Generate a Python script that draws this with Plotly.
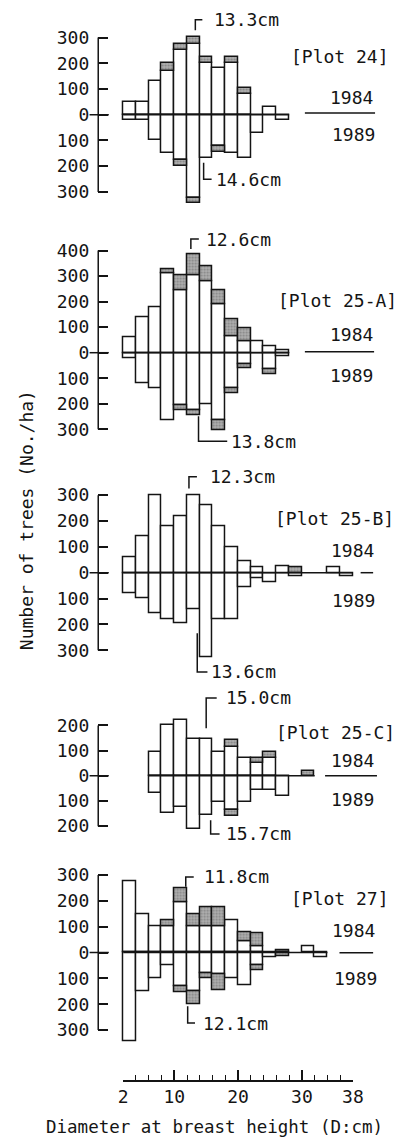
import plotly.graph_objects as go

# ---------------- data ----------------
dbh_class_mid = [3, 5, 7, 9, 11, 13, 15, 17, 19, 21, 23, 25, 27, 29, 31, 33, 35, 37]
class_width = 2

# Plot 24
p24_1984_white = [50, 50, 130, 170, 250, 275, 200, 180, 200, 80, 0, 30, 0, 0, 0, 0, 0, 0]
p24_1984_shade = [0, 0, 0, 30, 25, 25, 25, 0, 25, 25, 0, 0, 0, 0, 0, 0, 0, 0]
p24_1989_white = [20, 20, 100, 150, 175, 325, 170, 120, 150, 170, 70, 0, 20, 0, 0, 0, 0, 0]
p24_1989_shade = [0, 0, 0, 0, 25, 20, 0, 25, 0, 0, 0, 0, 0, 0, 0, 0, 0, 0]
# Plot 25-A
p25a_1984_white = [60, 140, 180, 310, 245, 305, 280, 190, 65, 45, 45, 25, 10, 0, 0, 0, 0, 0]
p25a_1984_shade = [0, 0, 0, 15, 60, 80, 60, 55, 65, 50, 0, 0, 0, 0, 0, 0, 0, 0]
p25a_1989_white = [20, 120, 140, 265, 205, 225, 200, 265, 140, 45, 0, 65, 15, 0, 0, 0, 0, 0]
p25a_1989_shade = [0, 0, 0, 0, 20, 20, 0, 40, 20, 15, 0, 20, 0, 0, 0, 0, 0, 0]
# Plot 25-B
p25b_1984_white = [60, 140, 300, 180, 220, 300, 260, 180, 100, 45, 20, 0, 25, 0, 0, 0, 20, 0]
p25b_1984_shade = [0, 0, 0, 0, 0, 0, 0, 0, 0, 0, 0, 0, 0, 20, 0, 0, 0, 0]
p25b_1989_white = [80, 100, 155, 180, 195, 140, 325, 180, 180, 55, 20, 35, 0, 15, 0, 0, 0, 15]
p25b_1989_shade = [0, 0, 0, 0, 0, 0, 0, 0, 0, 0, 0, 0, 0, 0, 0, 0, 0, 0]
# Plot 25-C
p25c_1984_white = [0, 0, 95, 200, 220, 145, 145, 95, 115, 70, 50, 70, 0, 0, 0, 0, 0, 0]
p25c_1984_shade = [0, 0, 0, 0, 0, 0, 0, 0, 25, 0, 20, 25, 0, 0, 18, 0, 0, 0]
p25c_1989_white = [0, 0, 70, 150, 125, 210, 155, 105, 135, 105, 55, 55, 80, 0, 0, 0, 0, 0]
p25c_1989_shade = [0, 0, 0, 0, 0, 0, 0, 0, 25, 0, 0, 0, 0, 0, 0, 0, 0, 0]
# Plot 27
p27_1984_white = [275, 150, 100, 100, 195, 100, 100, 100, 125, 45, 25, 0, 0, 0, 25, 0, 0, 0]
p27_1984_shade = [0, 0, 0, 25, 55, 50, 75, 75, 0, 35, 50, 0, 10, 0, 0, 0, 0, 0]
p27_1989_white = [345, 150, 100, 50, 130, 150, 80, 85, 100, 125, 50, 20, 0, 0, 0, 18, 0, 0]
p27_1989_shade = [0, 0, 0, 0, 25, 50, 20, 60, 0, 0, 20, 0, 15, 0, 0, 0, 0, 0]

plot_names = ["[Plot 24]", "[Plot 25-A]", "[Plot 25-B]", "[Plot 25-C]", "[Plot 27]"]
mean_dbh_1984 = [13.3, 12.6, 12.3, 15.0, 11.8]
mean_dbh_1989 = [14.6, 13.8, 13.6, 15.7, 12.1]
y_tick_top = [300, 400, 300, 200, 300]
y_tick_bottom = [300, 300, 300, 200, 300]
x_tick_vals = [2, 10, 20, 30, 38]
year_labels = ["1984", "1989"]

# ---------------- layout constants ----------------
W, H = 412, 1141
FONT = "DejaVu Sans Mono"
FS = 18
INK = "#141414"
LW = 1.5
PX_PER_CM = 6.639
AXIS_PX = 97          # pixel x of the vertical axes
DBH2_PX = 123         # pixel x of DBH = 2 cm
RIGHT_PX = 410
x_lo = 2 - (DBH2_PX - AXIS_PX) / PX_PER_CM
x_hi = 2 + (RIGHT_PX - DBH2_PX) / PX_PER_CM

# per panel: zero pixel, px per unit, y range
zero_px = [114.7, 352.7, 572.7, 775.8, 952.6]
px_per_unit = [0.2573, 0.2555, 0.2585, 0.2518, 0.2583]
y_ranges = [(-420, 430), (-420, 460), (-420, 420), (-400, 400), (-400, 400)]

# leader geometry: (y start, y end, horizontal length cm, text shift px)
lead_top = [(328, 369, 1.1, 10), (406, 445, 1.25, 5), (326, 371, 1.25, 11),
            (189, 309, 1.65, 7), (255, 293, 1.25, 8)]
lead_bot = [(-187, -251, 1.25, 2), (-249, -347, 4.5, 2), (-234, -384, 1.6, 2),
            (-177, -231, 1.4, 4), (-208, -273, 1.15, 6)]

# legend text positions (px)
name_pos = [(349, 57), (346, 300), (343, 518), (344, 732), (349, 898)]
y84_pos = [(360, 97), (360, 335), (362, 550), (362, 760), (363, 930)]
y89_pos = [(363, 135), (360, 375), (363, 600), (362, 799), (365, 978)]
sep_line = [(312, 385, 113), (312, 384, 351.7), (370, 383, 572.7), (333, 387, 775.7), (348, 383, 952.7)]

panels = [
    (p24_1984_white, p24_1984_shade, p24_1989_white, p24_1989_shade),
    (p25a_1984_white, p25a_1984_shade, p25a_1989_white, p25a_1989_shade),
    (p25b_1984_white, p25b_1984_shade, p25b_1989_white, p25b_1989_shade),
    (p25c_1984_white, p25c_1984_shade, p25c_1989_white, p25c_1989_shade),
    (p27_1984_white, p27_1984_shade, p27_1989_white, p27_1989_shade),
]


def px(x):
    return x / W


def py(y):
    return 1 - y / H


def nz(vals, sign):
    return [sign * v if v else None for v in vals]


fig = go.Figure()
layout = dict(
    width=W, height=H, margin=dict(l=0, r=0, t=0, b=0),
    paper_bgcolor="white", plot_bgcolor="rgba(0,0,0,0)",
    barmode="relative", bargap=0, showlegend=False,
    font=dict(family=FONT, size=FS, color=INK),
)
shapes = []
annotations = []

white_marker = dict(color="white", line=dict(color=INK, width=LW))
shade_marker = dict(color="#a8a8a8", line=dict(color=INK, width=LW),
                    pattern=dict(shape=".", fgcolor="#555555", bgcolor="#b0b0b0",
                                 size=3, solidity=0.4))

for i, (w84, s84, w89, s89) in enumerate(panels):
    n = i + 1
    xa = "x" if n == 1 else f"x{n}"
    ya = "y" if n == 1 else f"y{n}"
    for vals, sign, mk in [(w84, 1, white_marker), (s84, 1, shade_marker),
                           (w89, -1, white_marker), (s89, -1, shade_marker)]:
        fig.add_trace(go.Bar(x=dbh_class_mid, y=nz(vals, sign), width=class_width,
                             xaxis=xa, yaxis=ya, marker=mk, hoverinfo="skip"))

    lo, hi = y_ranges[i]
    s = px_per_unit[i]
    top_px = zero_px[i] - hi * s
    bot_px = zero_px[i] - lo * s
    ticks = list(range(-y_tick_bottom[i], y_tick_top[i] + 1, 100))
    layout["xaxis" if n == 1 else f"xaxis{n}"] = dict(
        domain=[px(AXIS_PX), px(RIGHT_PX)], range=[x_lo, x_hi], anchor=ya,
        visible=False, fixedrange=True)
    layout["yaxis" if n == 1 else f"yaxis{n}"] = dict(
        domain=[py(bot_px), py(top_px)], range=[lo, hi], anchor=xa,
        showgrid=False, zeroline=False, showline=False,
        tickvals=ticks, ticktext=[str(abs(t)) for t in ticks],
        ticks="inside", ticklen=10, tickwidth=LW, tickcolor=INK,
        ticklabelstandoff=8, tickfont=dict(family=FONT, size=FS, color=INK))

    # vertical axis line spanning the tick range
    shapes.append(dict(type="line", xref="paper", yref=ya, x0=px(AXIS_PX), x1=px(AXIS_PX),
                       y0=-y_tick_bottom[i], y1=y_tick_top[i], line=dict(color=INK, width=LW)))
    # zero tick crossing the axis
    shapes.append(dict(type="line", xref="paper", yref=ya, x0=px(AXIS_PX - 9), x1=px(AXIS_PX + 11),
                       y0=0, y1=0, line=dict(color=INK, width=LW)))
    # zero line through the bars
    nonzero = [k for k in range(len(dbh_class_mid)) if w84[k] or s84[k] or w89[k] or s89[k]]
    shapes.append(dict(type="line", xref=xa, yref=ya,
                       x0=dbh_class_mid[nonzero[0]] - class_width / 2,
                       x1=dbh_class_mid[nonzero[-1]] + class_width / 2,
                       y0=0, y1=0, line=dict(color=INK, width=LW), layer="above"))
    # mean DBH leaders
    for mean, (ya0, ya1, hl, dx) in [(mean_dbh_1984[i], lead_top[i]), (mean_dbh_1989[i], lead_bot[i])]:
        shapes.append(dict(type="path", xref=xa, yref=ya,
                           path=f"M {mean},{ya0} L {mean},{ya1} L {mean + hl},{ya1}",
                           line=dict(color=INK, width=LW)))
        annotations.append(dict(xref=xa, yref=ya, x=mean + hl, y=ya1, xshift=dx,
                                text=f"{mean:.1f}cm", showarrow=False,
                                xanchor="left", yanchor="middle",
                                font=dict(family=FONT, size=FS, color=INK)))
    # plot name and year legend
    annotations.append(dict(xref="paper", yref="paper", x=px(name_pos[i][0]), y=py(name_pos[i][1]),
                            text=plot_names[i], showarrow=False, xanchor="center", yanchor="middle",
                            font=dict(family=FONT, size=FS, color=INK)))
    annotations.append(dict(xref="paper", yref="paper", x=px(y84_pos[i][0]), y=py(y84_pos[i][1]),
                            text=year_labels[0], showarrow=False, xanchor="center", yanchor="middle",
                            font=dict(family=FONT, size=FS, color=INK)))
    annotations.append(dict(xref="paper", yref="paper", x=px(y89_pos[i][0]), y=py(y89_pos[i][1]),
                            text=year_labels[1], showarrow=False, xanchor="center", yanchor="middle",
                            font=dict(family=FONT, size=FS, color=INK)))
    sx0, sx1, sy = sep_line[i]
    shapes.append(dict(type="line", xref="paper", yref="paper", x0=px(sx0), x1=px(sx1),
                       y0=py(sy), y1=py(sy), line=dict(color=INK, width=LW)))

# bottom DBH axis
layout["xaxis6"] = dict(
    domain=[px(DBH2_PX), px(DBH2_PX + 36 * PX_PER_CM)], range=[2, 38], anchor="y6",
    showline=True, linecolor=INK, linewidth=LW, showgrid=False, zeroline=False,
    tickvals=x_tick_vals, ticktext=[str(v) for v in x_tick_vals],
    ticks="inside", ticklen=10, tickwidth=LW, tickcolor=INK,
    tickfont=dict(family=FONT, size=FS, color=INK),
    minor=dict(ticks="inside", ticklen=5, tickwidth=1.3, tickcolor=INK, tick0=2, dtick=2, showgrid=False),
    fixedrange=True)
layout["yaxis6"] = dict(domain=[py(1080), py(1065)], range=[0, 1], anchor="x6", visible=False)
fig.add_trace(go.Scatter(x=[2, 38], y=[None, None], xaxis="x6", yaxis="y6", mode="markers",
                         hoverinfo="skip"))

annotations.append(dict(xref="paper", yref="paper", x=px(218), y=py(1127),
                        text="Diameter at breast height (D:cm)", showarrow=False,
                        xanchor="center", yanchor="middle", borderpad=0,
                        font=dict(family=FONT, size=17.5, color=INK)))
annotations.append(dict(xref="paper", yref="paper", x=px(22), y=py(520),
                        text="Number of trees (No./ha)", showarrow=False, textangle=-90,
                        xanchor="center", yanchor="middle",
                        font=dict(family=FONT, size=FS, color=INK)))

layout["shapes"] = shapes
layout["annotations"] = annotations
fig.update_layout(**layout)
fig.write_html("out.html")
